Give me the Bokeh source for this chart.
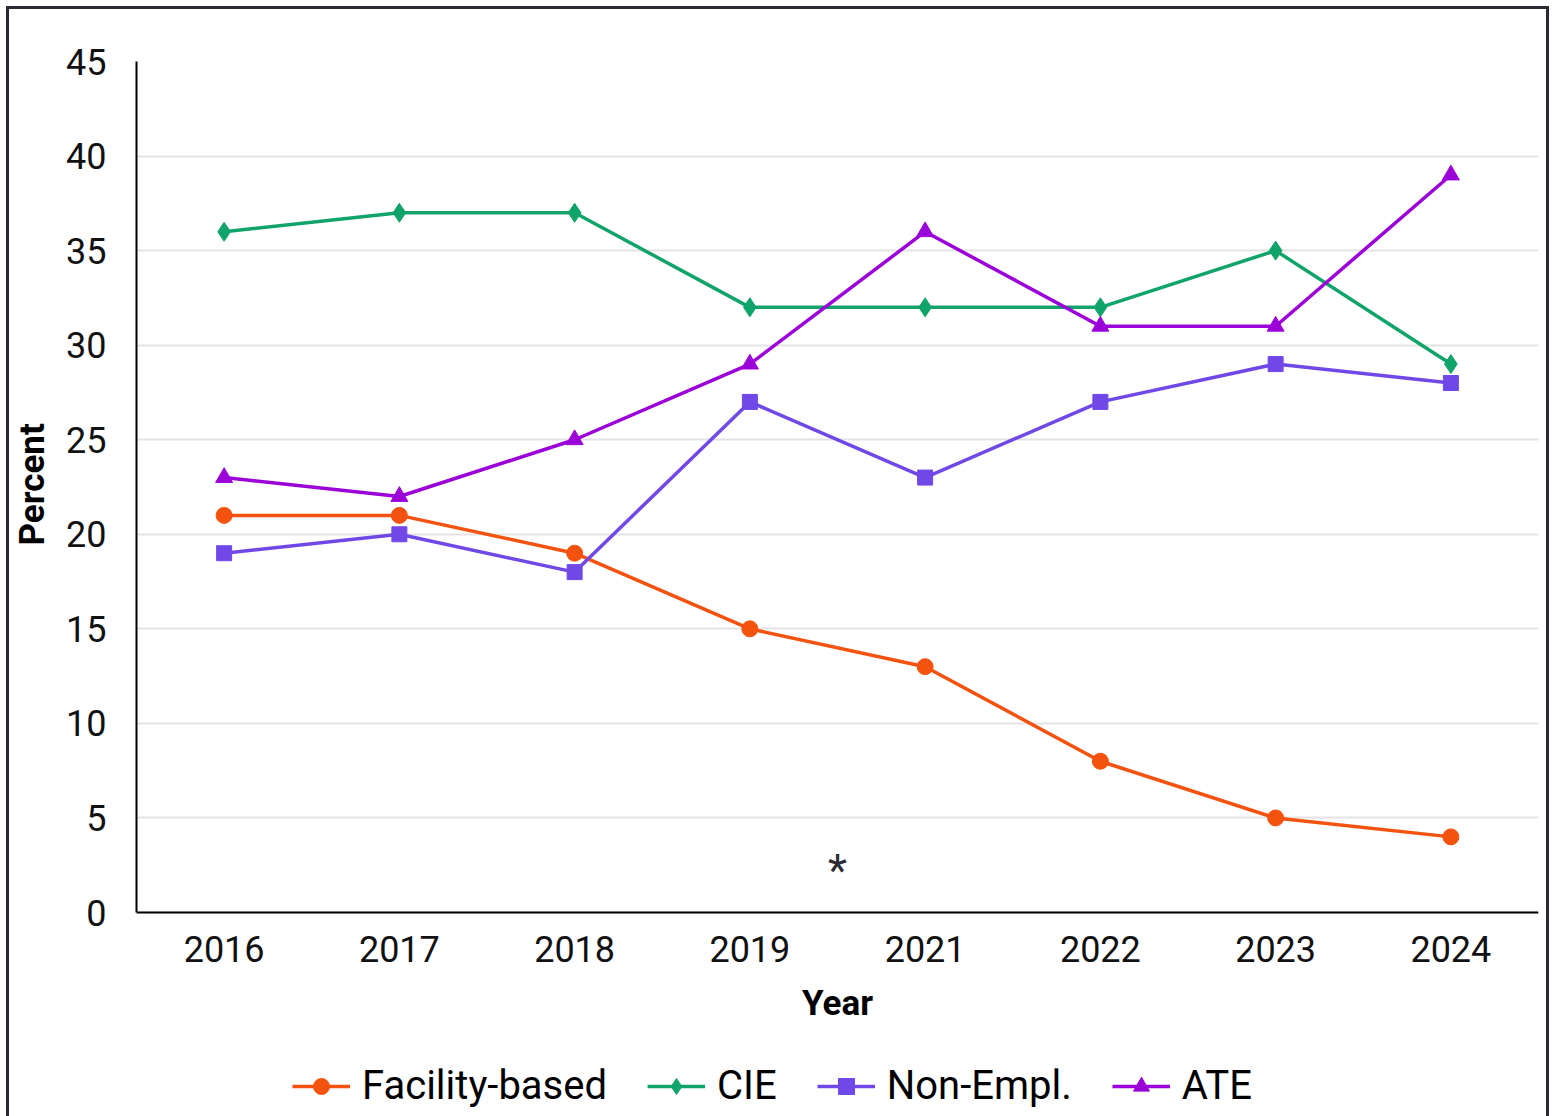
from bokeh.plotting import figure
from bokeh.models import Legend, LegendItem, FactorRange, FixedTicker, Label
from bokeh.embed import file_html
from bokeh.resources import INLINE

years = ["2016", "2017", "2018", "2019", "2021", "2022", "2023", "2024"]
facility = [21, 21, 19, 15, 13, 8, 5, 4]
cie = [36, 37, 37, 32, 32, 32, 35, 29]
non_empl = [19, 20, 18, 27, 23, 27, 29, 28]
ate = [23, 22, 25, 29, 36, 31, 31, 39]
y_ticks = [0, 5, 10, 15, 20, 25, 30, 35, 40, 45]

FONT = "Roboto"

# frame extends below the x axis so the legend (inside the frame) is not clipped
p = figure(x_range=FactorRange(factors=years, range_padding=0), y_range=(-11.05, 45),
           frame_width=1402, frame_height=1060, output_backend="svg", toolbar_location=None,
           min_border_left=126, min_border_right=8, min_border_top=52, min_border_bottom=0)
p.styles = {"border": "3px solid #2a2a33", "border-bottom": "none",
            "margin-left": "6px", "margin-top": "6px"}
p.outline_line_color = None
p.background_fill_color = "white"
p.border_fill_color = "white"

p.xgrid.grid_line_color = None
p.ygrid.grid_line_color = "#e3e3e3"
p.ygrid.grid_line_width = 2
p.yaxis.ticker = FixedTicker(ticks=y_ticks)
p.yaxis.bounds = (0, 45)
p.xaxis.fixed_location = 0

for ax in (p.xaxis[0], p.yaxis[0]):
    ax.axis_line_color = "black"
    ax.axis_line_width = 2
    ax.major_tick_line_color = None
    ax.minor_tick_line_color = None
    ax.major_label_text_font = FONT
    ax.major_label_text_font_size = "36px"
    ax.major_label_text_color = "#111111"
    ax.axis_label_text_font = FONT
    ax.axis_label_text_font_size = "35px"
    ax.axis_label_text_font_style = "bold"
    ax.axis_label_text_color = "black"

p.xaxis.axis_label = "Year"
# leading em spaces shift the centred label up to the middle of the 0-45 axis
p.yaxis.axis_label = "\u2003" * 6 + "Percent"
p.xaxis.major_label_standoff = 17
p.yaxis.major_label_standoff = 24
p.xaxis.axis_label_standoff = 18
p.yaxis.axis_label_standoff = 10

series = [
    ("Facility-based", facility, "#f4520f", "circle", 16),
    ("CIE", cie, "#10a36a", "diamond", 19),
    ("Non-Empl.", non_empl, "#7048e8", "square", 15),
    ("ATE", ate, "#9b00d8", "triangle", 17),
]

items = []
for name, vals, color, marker, size in series:
    l = p.line(years, vals, line_color=color, line_width=3.5)
    s = p.scatter(years, vals, marker=marker, size=size, fill_color=color, line_color=color)
    items.append(LegendItem(label=name, renderers=[l, s]))

legend = Legend(items=items, orientation="horizontal", location=(156, 12),
                label_text_font=FONT, label_text_font_size="40px", label_text_color="black",
                glyph_width=58, glyph_height=40, label_standoff=12, spacing=40,
                border_line_color=None, background_fill_alpha=0, padding=4, margin=0)
p.add_layout(legend, "center")

star = Label(x=4.0, y=2.2, text="*", text_font=FONT, text_font_size="44px",
             text_color="#2a2a33", text_align="center", text_baseline="middle")
p.add_layout(star)

open("out.html", "w").write(file_html(p, INLINE))
